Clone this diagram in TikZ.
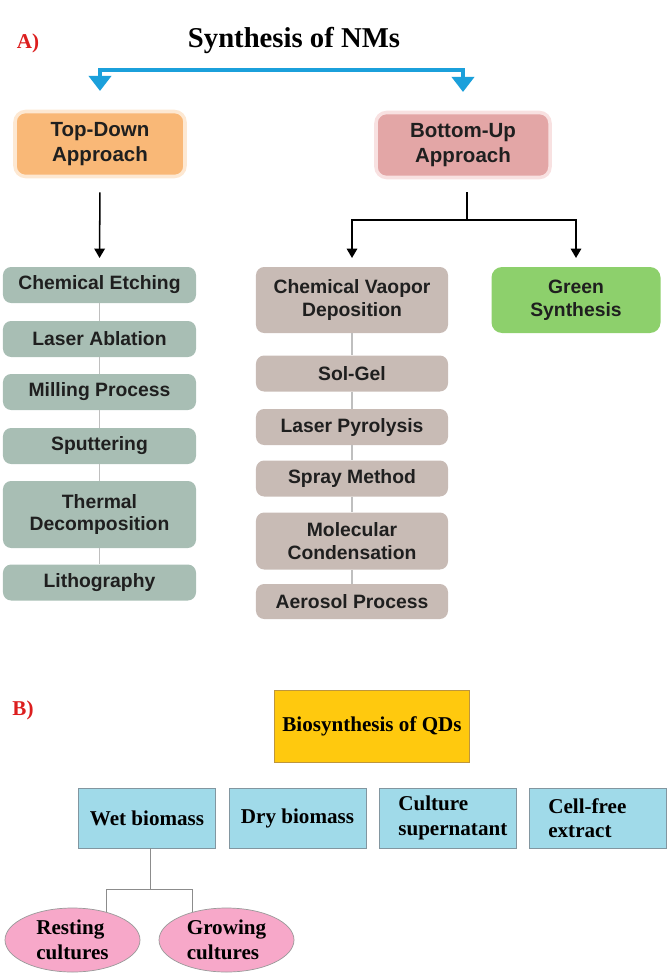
\documentclass[tikz,border=0pt]{standalone}
\usepackage{fontspec}
\setmainfont{Liberation Serif}
\setsansfont{Liberation Sans}
\usetikzlibrary{arrows.meta, positioning, shapes.geometric}

\definecolor{arrowblue}{RGB}{27,160,219}
\definecolor{tdfill}{RGB}{249,184,119}
\definecolor{tdglow}{RGB}{253,232,210}
\definecolor{bufill}{RGB}{227,166,166}
\definecolor{buglow}{RGB}{248,225,225}
\definecolor{leftfill}{RGB}{168,190,180}
\definecolor{midfill}{RGB}{200,187,181}
\definecolor{greenfill}{RGB}{141,208,108}
\definecolor{qdfill}{RGB}{255,201,14}
\definecolor{qdborder}{RGB}{190,150,60}
\definecolor{cyanfill}{RGB}{160,218,233}
\definecolor{cyanborder}{RGB}{130,150,160}
\definecolor{pinkfill}{RGB}{247,168,201}
\definecolor{labelred}{RGB}{220,30,30}

\begin{document}
\begin{tikzpicture}[x=0.03cm, y=-0.03cm,
    boxtext/.style={font=\sffamily\bfseries\fontsize{16.5}{19.5}\selectfont, text=black!88, align=center, inner sep=0pt},
    leftbox/.style={boxtext, fill=leftfill, rounded corners=7pt, minimum width=5.79cm, minimum height=1.08cm},
    midbox/.style={boxtext, fill=midfill, rounded corners=7pt, minimum width=5.76cm, minimum height=1.08cm},
    approach/.style={boxtext, font=\sffamily\bfseries\fontsize{17.5}{21}\selectfont, fill=#1fill, draw=#1glow, line width=3pt, rounded corners=9pt, minimum height=1.95cm},
    colline/.style={draw=black!25, line width=1.5pt},
    blkarrow/.style={draw=black, line width=1.3pt, -{Triangle[width=9pt,length=8pt]}, shorten >=7.5pt},
    bluearr/.style={draw=arrowblue, line width=3.5pt, line join=miter,
        {Triangle[width=19pt,length=13pt]}-{Triangle[width=19pt,length=13pt]}, shorten <=16pt, shorten >=16pt},
    serifbox/.style={font=\bfseries\fontsize{18}{21}\selectfont, text=black, inner sep=0pt},
    cyanbox/.style={serifbox, fill=cyanfill, draw=cyanborder, line width=0.8pt, minimum width=4.11cm, minimum height=1.8cm},
    cyanleft/.style={cyanbox, text width=2.95cm, align=left},
    culture/.style={serifbox, ellipse, fill=pinkfill, draw=black!40, line width=0.6pt, minimum width=4.05cm, minimum height=1.92cm, align=left},
    treeline/.style={draw=black!45, line width=0.8pt},
    panel/.style={font=\bfseries\fontsize{18}{20}\selectfont, text=labelred}]

    \useasboundingbox (0,0) rectangle (671,980);

    % panel A
    \node[panel] (pa) at (28,43) {A)};
    \node[font=\bfseries\fontsize{24.5}{28}\selectfont] (title) at (294,40) {Synthesis of NMs};

    \node[approach=td, minimum width=5.1cm] (td) at (100,144) {Top-Down\\Approach};
    \node[approach=bu, minimum width=5.22cm] (bu) at (463,145) {Bottom-Up\\Approach};
    \coordinate (tj) at (280,70);
    \draw[bluearr] (td.north) |- (tj) -| (bu.north);

    % top-down column
    \node[leftbox] (ce) at (99.5,285) {Chemical Etching};
    \node[leftbox] (la) at (99.5,339) {Laser Ablation};
    \node[leftbox] (mp) at (99.5,392) {Milling Process};
    \node[leftbox] (sp) at (99.5,446) {Sputtering};
    \node[leftbox, minimum height=2.01cm] (thd) at (99.5,514.5) {Thermal\\Decomposition};
    \node[leftbox] (li) at (99.5,582.5) {Lithography};
    \foreach \a/\b in {ce/la, la/mp, mp/sp, sp/thd, thd/li}
        \draw[colline] (\a) -- (\b);
    \draw[blkarrow, shorten <=12pt] (td.south) -- (ce.north);

    % bottom-up column
    \node[midbox, minimum height=1.98cm] (cvd) at (352,300) {Chemical Vaopor\\Deposition};
    \node[midbox] (sg) at (352,373.5) {Sol-Gel};
    \node[midbox] (lp) at (352,427) {Laser Pyrolysis};
    \node[midbox] (sm) at (352,478.5) {Spray Method};
    \node[midbox, minimum height=1.71cm] (mc) at (352,541) {Molecular\\Condensation};
    \node[midbox, minimum height=1.05cm] (ap) at (352,601.5) {Aerosol Process};
    \foreach \a/\b in {cvd/sg, sg/lp, lp/sm, sm/mc, mc/ap}
        \draw[colline] (\a) -- (\b);

    \node[boxtext, fill=greenfill, rounded corners=9pt, minimum width=5.07cm, minimum height=1.98cm] (gs) at (576,300) {Green\\Synthesis};

    \coordinate (bj) at (467,220);
    \draw[draw=black, line width=1.3pt, shorten <=11pt] (bu.south -| bj) -- (bj);
    \draw[blkarrow] (bj) -| (cvd.north);
    \draw[blkarrow] (bj) -| (gs.north);

    % panel B
    \node[panel] (pb) at (23,710) {B)};
    \node[serifbox, fill=qdfill, draw=qdborder, line width=0.8pt, minimum width=5.85cm, minimum height=2.16cm] (qd) at (372,726) {Biosynthesis of QDs};

    \node[cyanbox] (wet) at (147,818) {Wet biomass};
    \node[cyanbox] (dry) at (297.5,818) {Dry biomass};
    \node[cyanleft] (cs) at (447.5,818) {Culture\\supernatant};
    \node[cyanleft] (cf) at (597.5,818) {Cell-free\\extract};

    \node[culture] (rest) at (72.5,940) {Resting\\cultures};
    \node[culture] (grow) at (226.5,940) {Growing\\cultures};

    \coordinate (wj) at (150,889);
    \draw[treeline] (wet.south -| wj) -- (wj);
    \draw[treeline] (rest.39) |- (wj) -| (grow.141);
\end{tikzpicture}
\end{document}
